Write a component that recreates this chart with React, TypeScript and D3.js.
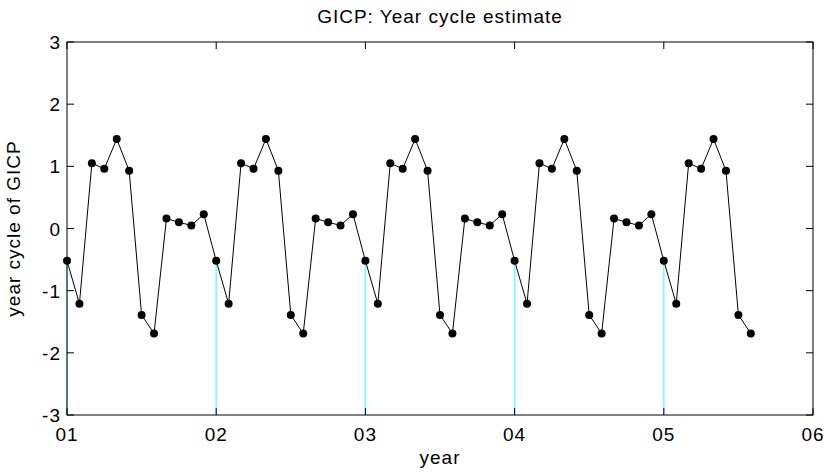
import React from "react";
import * as d3 from "d3";

const title = "GICP: Year cycle estimate";
const xLabel = "year";
const yLabel = "year cycle of GICP";

const cycleValues: number[] = [
  -0.52, -1.21, 1.05, 0.96, 1.44, 0.93, -1.39, -1.69, 0.16, 0.1, 0.05, 0.23,
  -0.52, -1.21, 1.05, 0.96, 1.44, 0.93, -1.39, -1.69, 0.16, 0.1, 0.05, 0.23,
  -0.52, -1.21, 1.05, 0.96, 1.44, 0.93, -1.39, -1.69, 0.16, 0.1, 0.05, 0.23,
  -0.52, -1.21, 1.05, 0.96, 1.44, 0.93, -1.39, -1.69, 0.16, 0.1, 0.05, 0.23,
  -0.52, -1.21, 1.05, 0.96, 1.44, 0.93, -1.39, -1.69,
];
const stemIndices: number[] = [0, 12, 24, 36, 48];
const xTickValues: number[] = [0, 1, 2, 3, 4, 5];
const xTickLabels: string[] = ["01", "02", "03", "04", "05", "06"];
const yTickValues: number[] = [-3, -2, -1, 0, 1, 2, 3];

const W = 825;
const H = 472;
const left = 67;
const right = 813;
const top = 42;
const bottom = 415;
const font = "Arial, 'Liberation Sans', Helvetica, sans-serif";
const fs = 19;
const ls = 1;
const tickLen = 7;

export default function App() {
  const x = d3.scaleLinear().domain([0, 5]).range([left, right]);
  const y = d3.scaleLinear().domain([-3, 3]).range([bottom, top]);
  const pts = cycleValues.map((v, i) => [x(i / 12), y(v)] as [number, number]);
  const line = d3.line<[number, number]>().x((d) => d[0]).y((d) => d[1]);

  return (
    <svg
      width={W}
      height={H}
      style={{ position: "absolute", left: 0, top: 0, background: "#fff" }}
      fontFamily={font}
    >
      <rect x={0} y={0} width={W} height={H} fill="#fff" />
      {stemIndices.map((i) => (
        <line
          key={"s" + i}
          x1={x(i / 12)}
          x2={x(i / 12)}
          y1={y(-3)}
          y2={y(cycleValues[i])}
          stroke="#70ffff"
          strokeWidth={1.5}
        />
      ))}
      <rect
        x={left}
        y={top}
        width={right - left}
        height={bottom - top}
        fill="none"
        stroke="#000"
        strokeWidth={1}
      />
      {xTickValues.map((t, i) => (
        <g key={"xt" + i}>
          <line x1={x(t)} x2={x(t)} y1={bottom} y2={bottom - tickLen} stroke="#000" />
          <line x1={x(t)} x2={x(t)} y1={top} y2={top + tickLen} stroke="#000" />
          <text
            x={x(t)}
            y={441}
            textAnchor="middle"
            fontSize={fs}
            letterSpacing={ls}
            fill="#000"
          >
            {xTickLabels[i]}
          </text>
        </g>
      ))}
      {yTickValues.map((t) => (
        <g key={"yt" + t}>
          <line x1={left} x2={left + tickLen} y1={y(t)} y2={y(t)} stroke="#000" />
          <line x1={right} x2={right - tickLen} y1={y(t)} y2={y(t)} stroke="#000" />
          <text
            x={61}
            y={y(t) + 7}
            textAnchor="end"
            fontSize={fs}
            letterSpacing={ls}
            fill="#000"
          >
            {String(t)}
          </text>
        </g>
      ))}
      <path d={line(pts) || ""} fill="none" stroke="#000" strokeWidth={1} />
      {pts.map((p, i) => (
        <circle key={"p" + i} cx={p[0]} cy={p[1]} r={4} fill="#000" />
      ))}
      <text
        x={(left + right) / 2}
        y={23}
        textAnchor="middle"
        fontSize={fs}
        letterSpacing={ls}
        fill="#000"
      >
        {title}
      </text>
      <text
        x={(left + right) / 2}
        y={464}
        textAnchor="middle"
        fontSize={fs}
        letterSpacing={ls}
        fill="#000"
      >
        {xLabel}
      </text>
      <text
        transform={`translate(20, ${(top + bottom) / 2}) rotate(-90)`}
        textAnchor="middle"
        fontSize={fs}
        letterSpacing={ls}
        fill="#000"
      >
        {yLabel}
      </text>
    </svg>
  );
}
